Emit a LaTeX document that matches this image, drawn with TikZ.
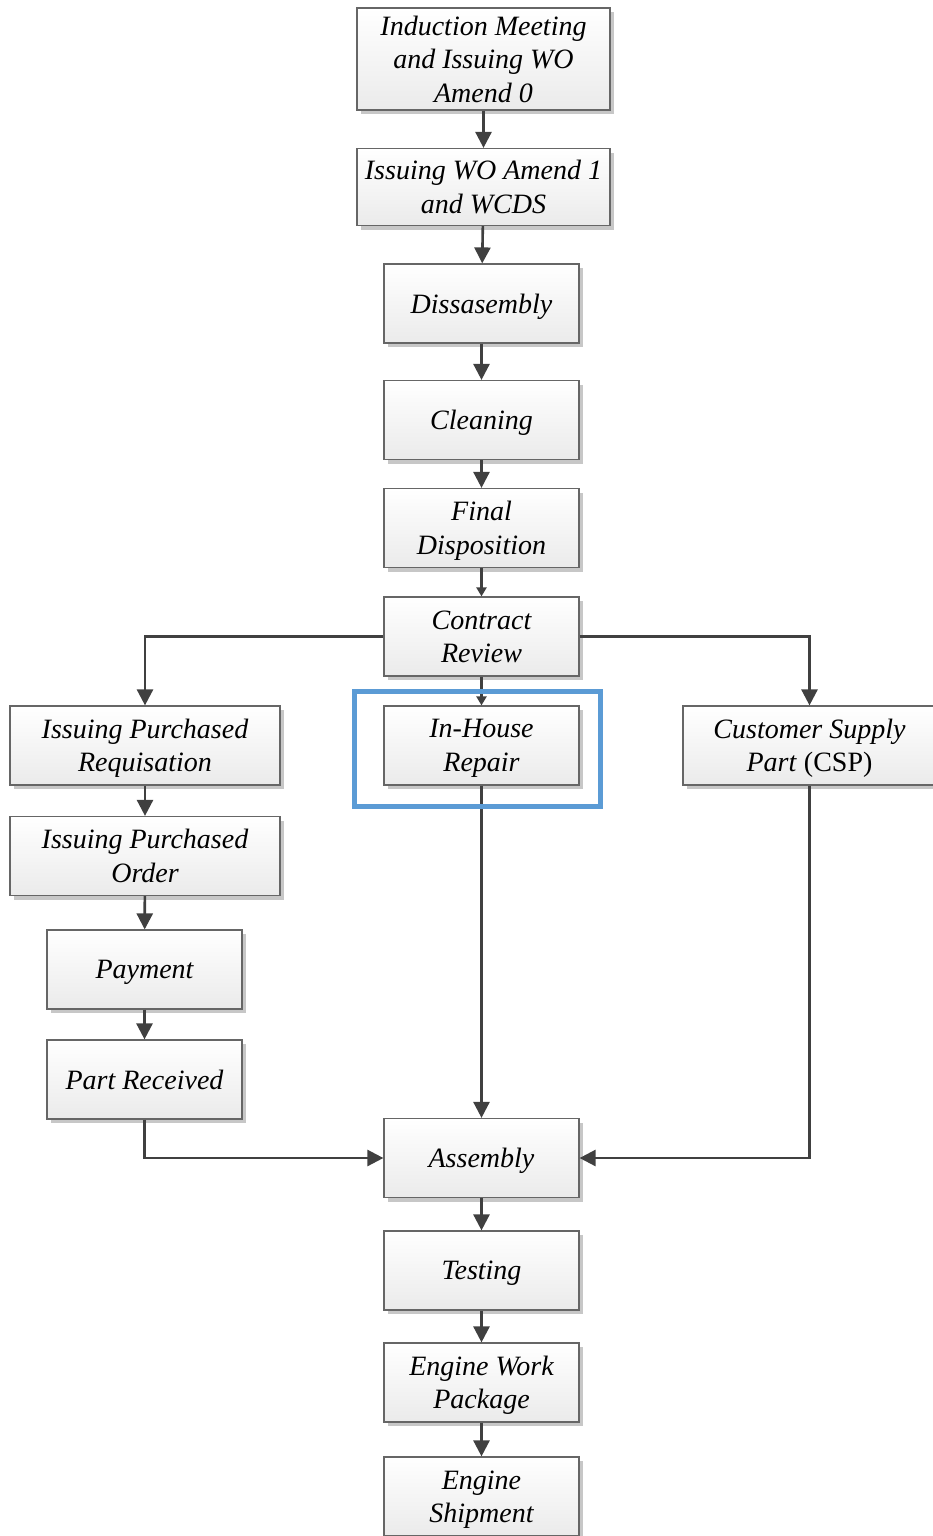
\documentclass[tikz,border=0pt]{standalone}
\usepackage{fontspec}
\setmainfont{Liberation Serif}
\usepackage{tikz}
\usetikzlibrary{arrows.meta,positioning,shadows}
\definecolor{hlblue}{HTML}{5B9BD5}

\begin{document}
\begin{tikzpicture}[
    x=1pt, y=-1pt,
    every node/.style={font=\fontsize{28}{33.5}\selectfont\itshape, align=center},
    box/.style={draw=black!60, line width=1.2pt, top color=white, bottom color=black!8,
        minimum width=195pt, minimum height=79pt, inner sep=0pt, text depth=-2pt,
        drop shadow={shadow xshift=4pt, shadow yshift=-4pt, fill=black!22, opacity=1}},
    wide/.style={box, minimum width=253pt},
    wider/.style={box, minimum width=270pt},
    flow/.style={draw=black!75, line width=2.6pt, -{Triangle[width=16pt,length=16pt]}},
    short flow/.style={flow, -{Triangle[width=10pt,length=9pt]}},
    highlight/.style={draw=hlblue, line width=5pt}
]
\useasboundingbox (0,0) rectangle (933,1536);

\node[wide, minimum height=102pt] (ind) at (483.5,59) {Induction Meeting\\and Issuing WO\\Amend 0};
\node[wide, minimum height=77pt] (woa) at (483.5,187) {Issuing WO Amend 1\\and WCDS};
\node[box] (dis) at (481.5,303.5) {Dissasembly};
\node[box] (cln) at (481.5,420) {Cleaning};
\node[box] (fdp) at (481.5,528) {Final\\Disposition};
\node[box] (crv) at (481.5,636.5) {Contract\\Review};
\node[box] (ihr) at (481.5,745.5) {In-House\\Repair};
\node[wider] (req) at (145,745.5) {Issuing Purchased\\Requisation};
\node[wider] (ord) at (145,856) {Issuing Purchased\\Order};
\node[box] (pay) at (144.5,969.5) {Payment};
\node[box] (prc) at (144.5,1079.5) {Part Received};
\node[wide] (csp) at (809.5,745.5) {Customer Supply\\Part \textup{(CSP)}};
\node[box] (asm) at (481.5,1158) {Assembly};
\node[box] (tst) at (481.5,1270.5) {Testing};
\node[box] (ewp) at (481.5,1382.5) {Engine Work\\Package};
\node[box] (shp) at (481.5,1496.5) {Engine\\Shipment};

\draw[flow] (ind) -- (woa);
\draw[flow] (woa) -- (dis);
\draw[flow] (dis) -- (cln);
\draw[flow] (cln) -- (fdp);
\draw[short flow] (fdp) -- (crv);
\draw[short flow] (crv) -- (ihr);
\draw[flow] (crv.west) -| (req.north);
\draw[flow] (crv.east) -| (csp.north);
\draw[flow] (req) -- (ord);
\draw[flow] (ord) -- (pay);
\draw[flow] (pay) -- (prc);
\draw[flow] (ihr) -- (asm);
\draw[flow] (prc.south) |- (asm.west);
\draw[flow] (csp.south) |- (asm.east);
\draw[flow] (asm) -- (tst);
\draw[flow] (tst) -- (ewp);
\draw[flow] (ewp) -- (shp);

\draw[highlight] (354,691) rectangle (600,806);
\end{tikzpicture}
\end{document}
